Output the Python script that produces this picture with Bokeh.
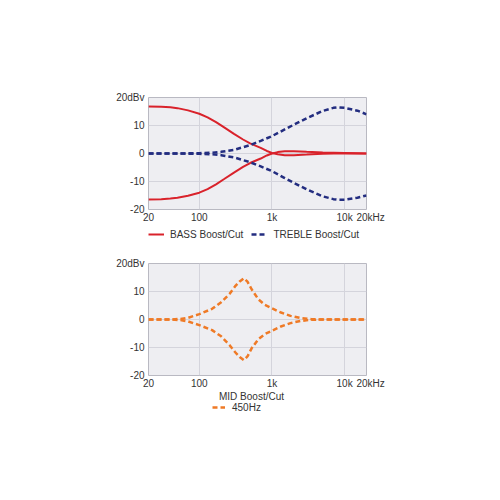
from bokeh.plotting import figure
from bokeh.layouts import column
from bokeh.models import Range1d, FixedTicker, Legend, LegendItem, Label
from bokeh.embed import file_html
from bokeh.resources import INLINE

# ---- data ----
bass_freq = [20, 30, 40, 50, 70, 100, 130, 170, 220, 300, 400, 500, 700, 850, 1000,
             1200, 1500, 2000, 3000, 5000, 10000, 20000]
bass_boost = [16.8, 16.7, 16.5, 16.2, 15.4, 14.2, 12.9, 11.2, 9.3, 7.0, 5.0, 3.6, 2.0, 0.9, 0.2,
              -0.3, -0.6, -0.6, -0.4, -0.1, 0.1, 0.0]
bass_cut = [-16.4, -16.3, -16.1, -15.8, -15.1, -14.0, -12.7, -11.0, -9.1, -6.8, -4.8, -3.4, -1.8, -0.7, 0.0,
            0.5, 0.8, 0.8, 0.6, 0.4, 0.2, 0.0]

treble_freq = [20, 50, 100, 150, 200, 300, 500, 700, 1000, 1500, 2000, 3000, 5000,
               7000, 8000, 10000, 15000, 20000]
treble_boost = [0.0, 0.0, 0.1, 0.3, 0.6, 1.3, 3.0, 4.5, 6.2, 8.6, 10.3, 12.6, 15.2,
                16.3, 16.5, 16.3, 15.3, 14.0]
treble_cut = [0.0, 0.0, -0.1, -0.3, -0.6, -1.4, -3.1, -4.6, -6.3, -8.8, -10.5, -12.8, -15.3,
              -16.3, -16.5, -16.5, -15.8, -15.0]

mid_freq = [20, 40, 55, 70, 100, 150, 200, 260, 310, 360, 410, 460, 525, 650, 800,
            1000, 1300, 1800, 2500, 3500, 5000, 10000, 20000]
mid_boost = [0.0, 0.0, 0.2, 0.6, 1.9, 3.8, 6.2, 9.1, 11.8, 13.6, 14.7, 13.5, 10.8, 7.2, 5.2,
             4.0, 2.6, 1.3, 0.5, 0.1, 0.0, 0.0, 0.0]
mid_cut = [0.0, 0.0, -0.2, -0.7, -2.0, -3.8, -6.0, -9.1, -11.6, -13.4, -14.5, -13.2, -10.3, -7.0, -5.2,
           -4.0, -2.6, -1.3, -0.5, -0.1, 0.0, 0.0, 0.0]

x_ticks = [20, 100, 1000, 10000, 20000]
x_tick_labels = ["20", "100", "1k", "10k", "\u00a0\u00a0\u00a020kHz"]
y_ticks = [-20, -10, 0, 10, 20]
y_tick_labels = ["-20", "-10", "0", "10", "20dBv"]
mid_title = "MID Boost/Cut"

RED = "#d9222b"
NAVY = "#232d80"
ORANGE = "#ef7a26"
DASH = "5 3"
FONT = "Liberation Sans"
TXT = "#333333"
W = 400
FL, FW = 148, 218
NAN = float("nan")


def make_fig(top, bottom):
    p = figure(x_axis_type="log", x_range=Range1d(20, 20000), y_range=Range1d(-20, 20),
               frame_width=FW, frame_height=112, output_backend="svg",
               toolbar_location=None, min_border_left=FL, min_border_right=W - FL - FW,
               min_border_top=top, min_border_bottom=bottom)
    p.background_fill_color = "#eeeef2"
    p.border_fill_color = "white"
    p.outline_line_color = "#b9b9c2"
    p.outline_line_width = 1
    p.xaxis.ticker = FixedTicker(ticks=x_ticks)
    p.yaxis.ticker = FixedTicker(ticks=y_ticks)
    p.xaxis.major_label_overrides = {t: l for t, l in zip(x_ticks, x_tick_labels)}
    p.yaxis.major_label_overrides = {t: l for t, l in zip(y_ticks, y_tick_labels)}
    for ax in (p.xaxis, p.yaxis):
        ax.axis_line_color = None
        ax.major_tick_line_color = None
        ax.minor_tick_line_color = None
        ax.major_tick_in = 0
        ax.major_tick_out = 0
        ax.minor_tick_in = 0
        ax.minor_tick_out = 0
        ax.major_label_text_font = FONT
        ax.major_label_text_font_size = "10px"
        ax.major_label_text_color = TXT
    p.xaxis.major_label_standoff = 2
    p.yaxis.major_label_standoff = 4
    p.xgrid.ticker = FixedTicker(ticks=[100, 1000, 10000])
    p.ygrid.ticker = FixedTicker(ticks=[-10, 0, 10])
    p.xgrid.grid_line_color = "#d4d4dc"
    p.ygrid.grid_line_color = "#d4d4dc"
    return p


def legend_fig(h):
    # frame is aligned with the charts' frames by the column layout
    f = figure(frame_width=FW, frame_height=h, x_range=Range1d(FL, FL + FW), y_range=Range1d(h, 0),
               x_axis_location=None, y_axis_location=None, output_backend="svg",
               toolbar_location=None, min_border_left=FL, min_border_right=W - FL - FW,
               min_border_top=0, min_border_bottom=0)
    f.grid.visible = False
    f.outline_line_color = None
    f.background_fill_color = "white"
    f.border_fill_color = "white"
    return f


# ---- top chart ----
p1 = make_fig(97, 16)
p1.line(bass_freq, bass_boost, line_color=RED, line_width=2)
p1.line(bass_freq, bass_cut, line_color=RED, line_width=2)
p1.line(treble_freq, treble_boost, line_color=NAVY, line_width=2.5, line_dash=DASH)
p1.line(treble_freq, treble_cut, line_color=NAVY, line_width=2.5, line_dash=DASH)

lf1 = legend_fig(30)
kb = lf1.line([NAN], [NAN], line_color=RED, line_width=2)
kt = lf1.line([NAN], [NAN], line_color=NAVY, line_width=2.5, line_dash=DASH)
leg1 = Legend(items=[LegendItem(label="BASS Boost/Cut", renderers=[kb]),
                     LegendItem(label="TREBLE Boost/Cut", renderers=[kt])],
              orientation="horizontal", location=(0, 15), padding=0, margin=0,
              spacing=8, label_standoff=6, glyph_width=16, glyph_height=12,
              label_height=12, border_line_color=None, background_fill_alpha=0,
              label_text_font=FONT, label_text_font_size="10px", label_text_color=TXT)
lf1.add_layout(leg1)

# ---- bottom chart ----
p2 = make_fig(8, 16)
p2.line(mid_freq, mid_boost, line_color=ORANGE, line_width=2.5, line_dash=DASH)
p2.line(mid_freq, mid_cut, line_color=ORANGE, line_width=2.5, line_dash=DASH)

lf2 = legend_fig(26)
lf2.add_layout(Label(x=251, y=5, text=mid_title, text_align="center", text_baseline="middle",
                     text_font=FONT, text_font_size="10px", text_color=TXT))
km = lf2.line([NAN], [NAN], line_color=ORANGE, line_width=2.5, line_dash=DASH)
leg2 = Legend(items=[LegendItem(label="450Hz", renderers=[km])],
              orientation="horizontal", location=(64, 4), padding=0, margin=0,
              label_standoff=7, glyph_width=13, glyph_height=12, label_height=12,
              border_line_color=None, background_fill_alpha=0,
              label_text_font=FONT, label_text_font_size="10px", label_text_color=TXT)
lf2.add_layout(leg2)

layout = column(p1, lf1, p2, lf2, spacing=0)
open("out.html", "w").write(file_html(layout, INLINE))
